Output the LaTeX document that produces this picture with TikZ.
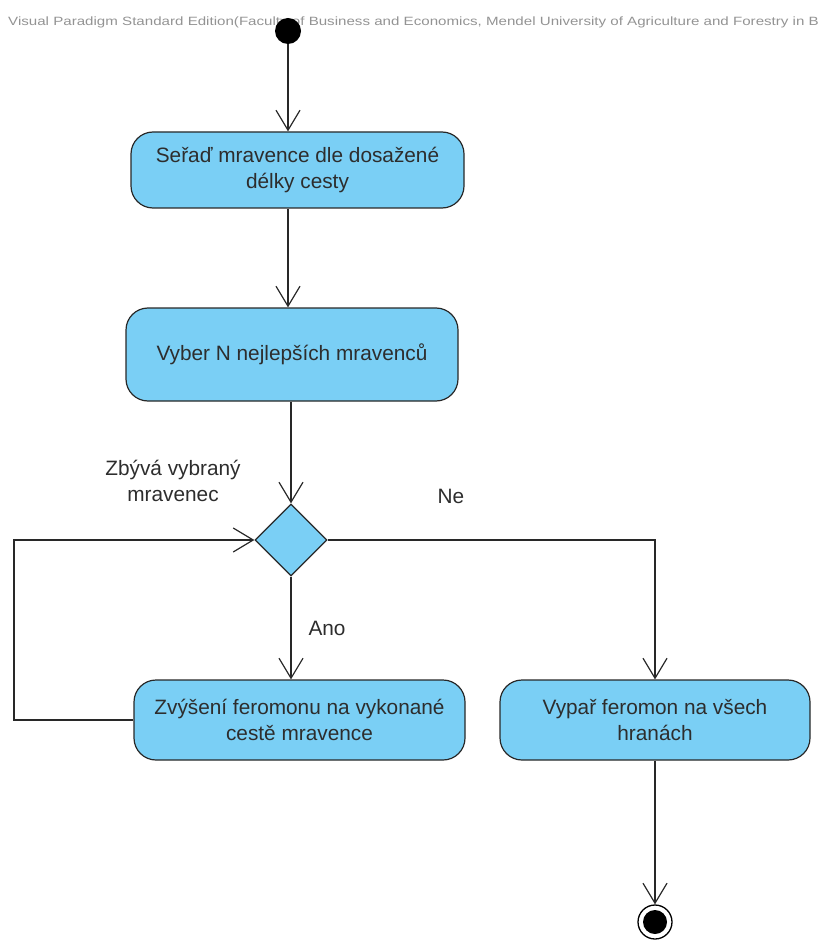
\documentclass[tikz,border=0pt]{standalone}
\usepackage{fontspec}
\setmainfont{Liberation Sans}
\usetikzlibrary{positioning, arrows.meta, shapes.geometric}
\definecolor{vpblue}{RGB}{122,207,245}
\definecolor{vpline}{RGB}{40,40,40}
\definecolor{vptext}{RGB}{45,45,45}
\tikzset{
  action/.style={draw=vpline, line width=1.2pt, fill=vpblue, rounded corners=22pt, align=center, font=\fontsize{20.8}{26}\selectfont, text=vptext, inner sep=0pt},
  decision/.style={diamond, draw=vpline, line width=1.2pt, fill=vpblue, minimum width=72pt, minimum height=72pt, inner sep=0pt},
  initial/.style={circle, fill=black, minimum size=26pt, inner sep=0pt},
  final/.style={circle, draw=black, line width=1.3pt, minimum size=34pt, inner sep=0pt},
  arr/.style={-{Straight Barb[length=20pt, width=24pt, line width=1.2pt]}, line width=1.2pt, draw=vpline},
  lbl/.style={font=\fontsize{20.8}{26}\selectfont, text=vptext, align=center}
}
\begin{document}
\begin{tikzpicture}[x=1pt, y=-1pt]
\useasboundingbox (0,0) rectangle (819,941);
\node[anchor=west, text=gray!85, font=\fontsize{12}{12}\selectfont, inner sep=0pt] (mark) at (8,22) {\scalebox{1.26}[1]{Visual Paradigm Standard Edition(Faculty of Business and Economics, Mendel University of Agriculture and Forestry in B}};
\node[initial] (start) at (288,31) {};
\node[action, minimum width=333pt, minimum height=76pt] (sort) at (297.5,170) {Seřaď mravence dle dosažené\\délky cesty};
\node[action, minimum width=332pt, minimum height=93pt] (pick) at (292,354.5) {Vyber N nejlepších mravenců};
\node[decision] (left) at (291,540) {};
\node[action, minimum width=331pt, minimum height=80pt] (raise) at (299.5,720) {Zvýšení feromonu na vykonané\\cestě mravence};
\node[action, minimum width=310pt, minimum height=80pt] (evap) at (655,720) {Vypař feromon na všech\\hranách};
\node[final] (stop) at (655,922) {};
\node[circle, fill=black, minimum size=24pt, inner sep=0pt] (stopdot) at (stop) {};
\coordinate (back) at (14,720);
\node[lbl] (lleft) at (173,481) {Zbývá vybraný\\mravenec};
\node[lbl] (lne) at (451,496) {Ne};
\node[lbl] (lano) at (327,628) {Ano};
\draw[arr] (start) -- (start |- sort.north);
\draw[arr] (sort.south -| start) -- (pick.north -| start);
\draw[arr] (pick.south -| left) -- (left.north);
\draw[arr] (left.south) -- (left.south |- raise.north);
\draw[arr] (raise.west) -- (back) |- (left.west);
\draw[arr] (left.east) -| (evap.north);
\draw[arr] (evap.south) -- (stop.north);
\end{tikzpicture}
\end{document}
